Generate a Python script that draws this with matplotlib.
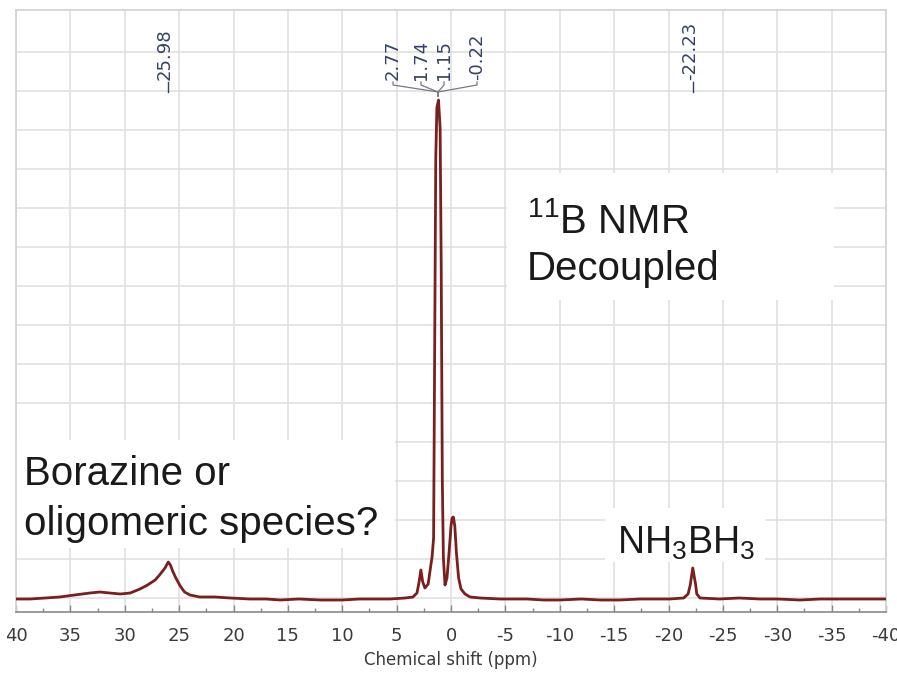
import matplotlib.pyplot as plt
from matplotlib.patches import Rectangle
from matplotlib.ticker import MultipleLocator

# spectrum (ppm, intensity in a.u.)
shift_ppm = [40.0, 38.7, 37.3, 36.0, 34.6, 33.2, 32.3, 31.4, 30.4, 29.5,
             28.6, 27.9, 27.2, 26.8, 26.3, 26.0, 25.8, 25.6, 25.3, 24.9,
             24.5, 24.0, 23.1, 21.7, 20.3, 18.5, 17.0, 15.7, 14.0, 12.0,
             10.0, 8.4, 7.0, 5.6, 4.2, 3.5, 3.13, 2.95, 2.77, 2.6,
             2.4, 2.1, 1.85, 1.74, 1.6, 1.5, 1.4, 1.3, 1.15, 1.0,
             0.9, 0.8, 0.7, 0.55, 0.37, 0.18, 0.0, -0.1, -0.22, -0.35,
             -0.5, -0.7, -0.92, -1.29, -1.75, -2.67, -4.5, -7.0, -8.5, -10.0,
             -12.0, -13.7, -15.5, -17.4, -20.1, -21.4, -21.8, -22.0, -22.23, -22.5,
             -22.6, -22.9, -24.7, -26.5, -28.4, -30.0, -32.1, -34.0, -35.8, -38.0,
             -40.0]
intensity = [-1, -1, 0, 1, 3, 5, 6, 5, 4, 5,
             9, 13, 18, 23, 30, 36, 33, 27, 20, 12,
             6, 3, 1, 1, 0, -1, -1, -2, -1, -2,
             -2, -1, -1, -1, 0, 1, 5, 15, 28, 16,
             10, 14, 33, 41, 60, 250, 440, 490, 498, 470,
             330, 120, 40, 13, 20, 45, 72, 80, 81, 72,
             45, 20, 9, 4, 1, 0, -1, -1, -2, -2,
             -1, -2, -2, -1, -1, 0, 4, 13, 30, 13,
             4, 0, -1, 0, -1, -1, -2, -1, -1, -1,
             -1]

# peak labels
peak_labels = ['25.98', '2.77', '1.74', '1.15', '-0.22', '-22.23']
label_ppm = [26.3, 5.33, 2.76, 0.64, -2.39, -22.0]
line_ppm = [25.98, 5.33, 2.76, 0.64, -2.39, -22.23]
cluster_ppm = 1.2

tick_values = list(range(40, -41, -5))
tick_labels = [str(v) for v in tick_values]

W, H = 897, 674
fig = plt.figure(figsize=(W / 100, H / 100), dpi=100)
ax_left, ax_right, ax_top, ax_bottom = 16, 886, 10, 612
ax = fig.add_axes([ax_left / W, (H - ax_bottom) / H,
                   (ax_right - ax_left) / W, (ax_bottom - ax_top) / H])


def fx(x):
    return x / W


def fy(y):
    return (H - y) / H


def ay(y):
    # pixel row -> axes fraction
    return (ax_bottom - y) / (ax_bottom - ax_top)


ax.set_xlim(40, -40)
ax.set_ylim(-14, 588)
ax.set_axisbelow(True)

ax.set_xticks(tick_values)
ax.set_xticklabels(tick_labels)
ax.xaxis.set_minor_locator(MultipleLocator(2.5))
ax.set_yticks([39 * k for k in range(15)])
ax.set_yticklabels([])
ax.tick_params(axis='y', length=0)
ax.tick_params(axis='x', which='major', direction='in', length=5, width=1,
               color='#888888', labelsize=13, labelcolor='#3a3a3a', pad=11)
ax.tick_params(axis='x', which='minor', direction='in', length=3, width=1,
               color='#888888')
ax.grid(True, which='major', color='#e0e0e0', lw=1.2)
for side in ['left', 'right', 'top']:
    ax.spines[side].set_color('#d4d4d4')
    ax.spines[side].set_linewidth(1.3)
ax.spines['bottom'].set_color('#8a8a8a')
ax.spines['bottom'].set_linewidth(1.2)

ax.set_xlabel('Chemical shift (ppm)', fontsize=12, color='#3a3a3a', labelpad=4)

# white boxes behind the annotations
boxes = [(16, 440, 395, 548), (507, 173, 834, 300), (605, 508, 765, 562)]
for x0, y0, x1, y1 in boxes:
    ax.add_patch(Rectangle((fx(x0), fy(y1)), fx(x1) - fx(x0), fy(y0) - fy(y1),
                           transform=fig.transFigure, facecolor='white',
                           edgecolor='none', zorder=1, clip_on=False))

ax.plot(shift_ppm, intensity, color='#7a1e1e', lw=2.0, zorder=3)

# peak labels on top
trans = ax.get_xaxis_transform()
lab_color = '#34406a'
for lab, xl, xline in zip(peak_labels, label_ppm, line_ppm):
    ax.text(xl, ay(80), lab, rotation=90, ha='center', va='bottom',
            fontsize=13, color=lab_color, transform=trans, zorder=4)
    if lab in ['2.77', '1.74', '1.15', '-0.22']:
        ax.plot([xline, xline, cluster_ppm, cluster_ppm],
                [ay(82), ay(85), ay(92), ay(96)], color='#777788', lw=0.9,
                transform=trans, clip_on=False, zorder=4)
    else:
        ax.plot([xline, xline], [ay(82), ay(92)], color=lab_color, lw=1.0,
                transform=trans, clip_on=False, zorder=4)

plt.rcParams['mathtext.default'] = 'regular'
note_font = dict(family='Liberation Sans', fontsize=29, color='#1a1a1a',
                 transform=fig.transFigure, ha='left', va='baseline', zorder=5)
fig.text(fx(24), fy(485), 'Borazine or', **note_font)
fig.text(fx(24), fy(535), 'oligomeric species?', **note_font)
fig.text(fx(527), fy(233), r'$\mathregular{^{11}}$B NMR', **note_font)
fig.text(fx(527), fy(280), 'Decoupled', **note_font)
fig.text(fx(617), fy(554), r'NH$\mathregular{_3}$BH$\mathregular{_3}$',
         family='Liberation Sans', fontsize=27, color='#1a1a1a',
         transform=fig.transFigure, ha='left', va='baseline', zorder=5)

plt.savefig('out.png', dpi=100)
